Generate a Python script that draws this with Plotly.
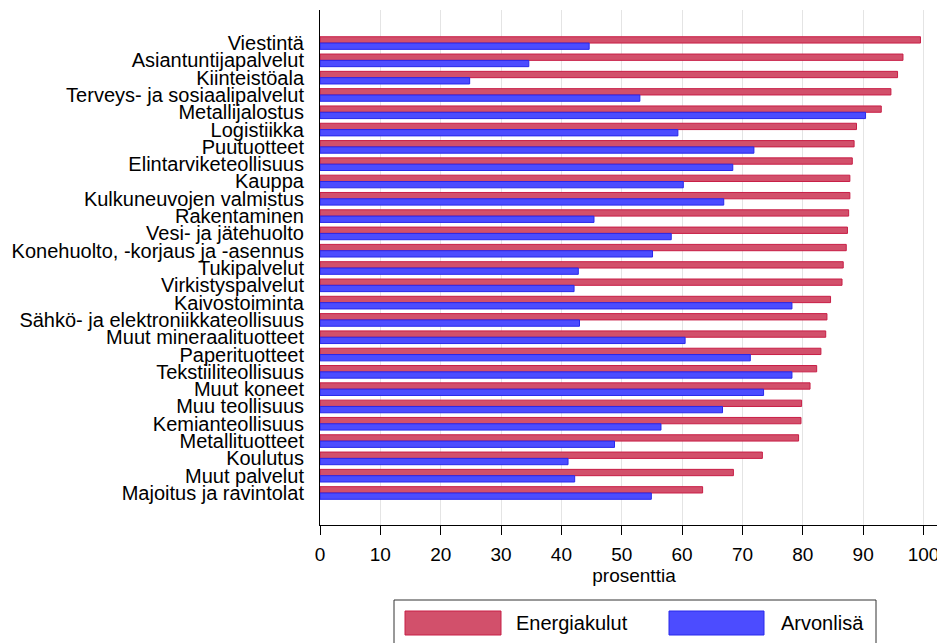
import plotly.graph_objects as go

categories = [
    "Viestintä", "Asiantuntijapalvelut", "Kiinteistöala", "Terveys- ja sosiaalipalvelut",
    "Metallijalostus", "Logistiikka", "Puutuotteet", "Elintarviketeollisuus", "Kauppa",
    "Kulkuneuvojen valmistus", "Rakentaminen", "Vesi- ja jätehuolto",
    "Konehuolto, -korjaus ja -asennus", "Tukipalvelut", "Virkistyspalvelut",
    "Kaivostoiminta", "Sähkö- ja elektroniikkateollisuus", "Muut mineraalituotteet",
    "Paperituotteet", "Tekstiiliteollisuus", "Muut koneet", "Muu teollisuus",
    "Kemianteollisuus", "Metallituotteet", "Koulutus", "Muut palvelut",
    "Majoitus ja ravintolat",
]
energiakulut = [99.5, 96.6, 95.7, 94.6, 93.0, 88.9, 88.5, 88.2, 87.8, 87.8, 87.6, 87.4,
                87.2, 86.7, 86.5, 84.6, 84.0, 83.8, 83.0, 82.3, 81.2, 79.8, 79.7, 79.3,
                73.3, 68.5, 63.4]
arvonlisa = [44.6, 34.6, 24.8, 53.0, 90.4, 59.3, 71.9, 68.4, 60.2, 66.9, 45.4, 58.2,
             55.1, 42.8, 42.1, 78.2, 43.0, 60.5, 71.3, 78.2, 73.5, 66.7, 56.5, 48.8,
             41.1, 42.2, 54.9]
xticks = [0, 10, 20, 30, 40, 50, 60, 70, 80, 90, 100]

RED_FILL = "rgb(210,80,107)"
RED_LINE = "rgb(200,30,70)"
BLUE_FILL = "rgb(76,76,255)"
BLUE_LINE = "rgb(40,40,235)"

W, H = 945, 643
ML, MR, MT, MB = 312, 5, 2, 126
PW, PH = W - ML - MR, H - MT - MB
PX_PER_UNIT = 6.035

def px(x):
    return (x - ML) / PW

def py(y):
    return (H - MB - y) / PH

fig = go.Figure()
fig.add_trace(go.Bar(y=categories, x=energiakulut, orientation="h", name="Energiakulut",
                     marker=dict(color=RED_FILL, line=dict(color=RED_LINE, width=1)),
                     showlegend=False))
fig.add_trace(go.Bar(y=categories, x=arvonlisa, orientation="h", name="Arvonlisä",
                     marker=dict(color=BLUE_FILL, line=dict(color=BLUE_LINE, width=1)),
                     showlegend=False))

# custom legend box
shapes = [
    dict(type="rect", xref="paper", yref="paper", x0=px(386), x1=px(868), y0=py(660), y1=py(592),
         line=dict(color="#333333", width=1), fillcolor="white"),
    dict(type="rect", xref="paper", yref="paper", x0=px(397), x1=px(493), y0=py(627), y1=py(603),
         line=dict(color=RED_LINE, width=1), fillcolor=RED_FILL),
    dict(type="rect", xref="paper", yref="paper", x0=px(661), x1=px(756), y0=py(627), y1=py(603),
         line=dict(color=BLUE_LINE, width=1), fillcolor=BLUE_FILL),
]
annotations = [
    dict(xref="paper", yref="paper", x=px(506), y=py(615), text="Energiakulut", showarrow=False,
         xanchor="left", yanchor="middle", font=dict(size=20, color="black")),
    dict(xref="paper", yref="paper", x=px(771), y=py(615), text="Arvonlisä", showarrow=False,
         xanchor="left", yanchor="middle", font=dict(size=20, color="black")),
]

fig.update_layout(
    width=W, height=H,
    margin=dict(l=ML, r=MR, t=MT, b=MB, pad=0),
    paper_bgcolor="white", plot_bgcolor="white",
    barmode="group", bargap=0.27, bargroupgap=0,
    font=dict(family="Liberation Sans, Arial, sans-serif", size=20, color="black"),
    shapes=shapes, annotations=annotations,
    xaxis=dict(range=[0, PW / PX_PER_UNIT], tickmode="array", tickvals=xticks,
               ticktext=[str(t) for t in xticks], automargin=False,
               showgrid=True, gridcolor="#e4e4e4", gridwidth=1,
               showline=True, linecolor="black", linewidth=1,
               ticks="outside", ticklen=9, tickcolor="black",
               tickfont=dict(size=19), zeroline=False, ticklabelstandoff=3,
               title=dict(text="prosenttia", font=dict(size=19), standoff=2)),
    yaxis=dict(categoryorder="array", categoryarray=categories,
               tickmode="array", tickvals=categories, ticktext=categories,
               automargin=False,
               range=[26 + 1.85, -1.91], showgrid=False,
               showline=True, linecolor="black", linewidth=1,
               ticks="", ticklabelstandoff=11, tickfont=dict(size=20), zeroline=False),
)

fig.write_html("out.html")
